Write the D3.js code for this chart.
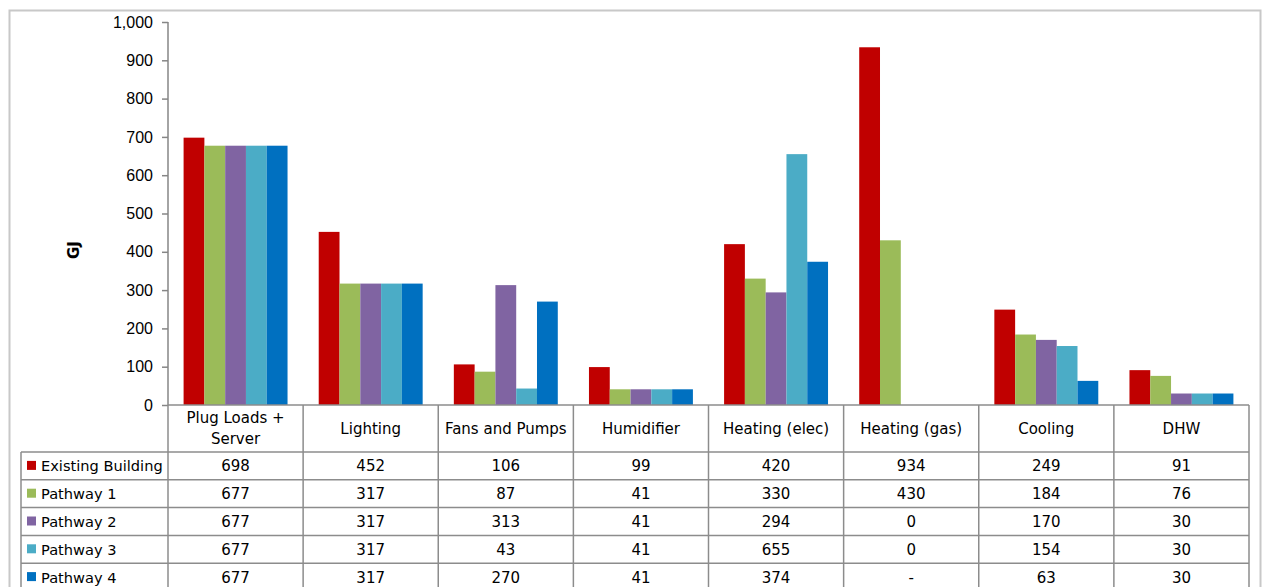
<!DOCTYPE html>
<html>
<head>
<meta charset="utf-8">
<script src="https://cdn.jsdelivr.net/npm/d3@7"></script>
<style>
  body { margin: 0; background: #fff; }
  svg { display: block; font-family: "Century Gothic", "DejaVu Sans", sans-serif; }
  .axis path, .axis line { stroke: #868686; stroke-width: 1.5; }
  .axis text { font-size: 16px; fill: #000; }
</style>
</head>
<body>
<script>
// categories and series
var categories = ["Plug Loads +\nServer", "Lighting", "Fans and Pumps", "Humidifier",
                  "Heating (elec)", "Heating (gas)", "Cooling", "DHW"];
var seriesNames = ["Existing Building", "Pathway 1", "Pathway 2", "Pathway 3", "Pathway 4"];
var seriesColors = ["#C00000", "#9BBB59", "#8064A2", "#4BACC6", "#0070C0"];

var existing = [698, 452, 106, 99, 420, 934, 249, 91];
var pathway1 = [677, 317, 87, 41, 330, 430, 184, 76];
var pathway2 = [677, 317, 313, 41, 294, 0, 170, 30];
var pathway3 = [677, 317, 43, 41, 655, 0, 154, 30];
var pathway4 = [677, 317, 270, 41, 374, null, 63, 30];
var seriesValues = [existing, pathway1, pathway2, pathway3, pathway4];

var yTicks = [0, 100, 200, 300, 400, 500, 600, 700, 800, 900, 1000];

// layout
var W = 1264, H = 587;
var plot = {left: 168, right: 1249, top: 22, bottom: 405};
var legendLeft = 21;
var headerH = 47, rowH = 27.8;

var svg = d3.select("body").append("svg")
    .attr("width", W)
    .attr("height", H);

// outer chart border
svg.append("rect")
    .attr("x", 9.5).attr("y", 10.5)
    .attr("width", 1251).attr("height", 600)
    .attr("fill", "none")
    .attr("stroke", "#c8c8c8")
    .attr("stroke-width", 2);

var x = d3.scaleBand()
    .domain(d3.range(categories.length))
    .range([plot.left, plot.right]);

var xInner = d3.scaleBand()
    .domain(d3.range(seriesNames.length))
    .range([0, x.bandwidth()])
    .paddingOuter(0.75);

var y = d3.scaleLinear()
    .domain([0, 1000])
    .range([plot.bottom, plot.top]);

// bars
seriesValues.forEach(function(vals, s) {
    svg.append("g")
        .selectAll("rect")
        .data(vals.map(function(v, i) { return {i: i, v: v}; })
                  .filter(function(d) { return d.v; }))
        .enter().append("rect")
        .attr("x", function(d) { return x(d.i) + xInner(s); })
        .attr("width", xInner.bandwidth())
        .attr("y", function(d) { return y(d.v); })
        .attr("height", function(d) { return y(0) - y(d.v); })
        .attr("fill", seriesColors[s]);
});

// y axis
var yAxis = d3.axisLeft(y)
    .tickValues(yTicks)
    .tickSize(6)
    .tickPadding(9)
    .tickFormat(d3.format(","));

svg.append("g")
    .attr("class", "axis")
    .attr("transform", "translate(" + plot.left + ",0)")
    .call(yAxis)
    .call(function(g) { g.select(".domain").attr("d", "M0," + plot.top + "V" + plot.bottom); });

svg.append("text")
    .attr("transform", "translate(79,250) rotate(-90)")
    .attr("text-anchor", "middle")
    .style("font-size", "15px")
    .style("font-weight", "bold")
    .text("GJ");

// data table
var grid = svg.append("g")
    .attr("stroke", "#8c8c8c")
    .attr("stroke-width", 1.5)
    .attr("fill", "none");

var tableTop = plot.bottom;
var rowTop = function(r) { return tableTop + headerH + r * rowH; };
var tableBottom = rowTop(seriesNames.length);

// horizontal lines
grid.append("line")
    .attr("x1", plot.left).attr("x2", plot.right)
    .attr("y1", tableTop).attr("y2", tableTop);
d3.range(seriesNames.length + 1).forEach(function(r) {
    grid.append("line")
        .attr("x1", legendLeft).attr("x2", plot.right)
        .attr("y1", rowTop(r)).attr("y2", rowTop(r));
});
// vertical lines
grid.append("line")
    .attr("x1", legendLeft).attr("x2", legendLeft)
    .attr("y1", rowTop(0)).attr("y2", tableBottom);
d3.range(categories.length + 1).forEach(function(i) {
    var xx = i < categories.length ? x(i) : plot.right;
    grid.append("line")
        .attr("x1", xx).attr("x2", xx)
        .attr("y1", tableTop).attr("y2", tableBottom);
});

// header labels
categories.forEach(function(c, i) {
    var lines = c.split("\n");
    var t = svg.append("text")
        .attr("text-anchor", "middle")
        .style("font-size", "15px")
        .attr("x", x(i) + x.bandwidth() / 2)
        .attr("y", tableTop + headerH / 2 - (lines.length - 1) * 10.5 + 5);
    lines.forEach(function(l, k) {
        t.append("tspan")
            .attr("x", x(i) + x.bandwidth() / 2)
            .attr("dy", k === 0 ? 0 : 21)
            .text(l);
    });
});

// rows
seriesNames.forEach(function(name, s) {
    var cy = rowTop(s) + rowH / 2;
    svg.append("rect")
        .attr("x", 27).attr("y", cy - 5)
        .attr("width", 9).attr("height", 9)
        .attr("fill", seriesColors[s]);
    svg.append("text")
        .attr("x", 41).attr("y", cy + 5.5)
        .style("font-size", "14.6px")
        .text(name);
    seriesValues[s].forEach(function(v, i) {
        svg.append("text")
            .attr("x", x(i) + x.bandwidth() / 2)
            .attr("y", cy + 5.5)
            .attr("text-anchor", "middle")
            .style("font-size", "15px")
            .text(v === null ? "-" : d3.format(",")(v));
    });
});
</script>
</body>
</html>
